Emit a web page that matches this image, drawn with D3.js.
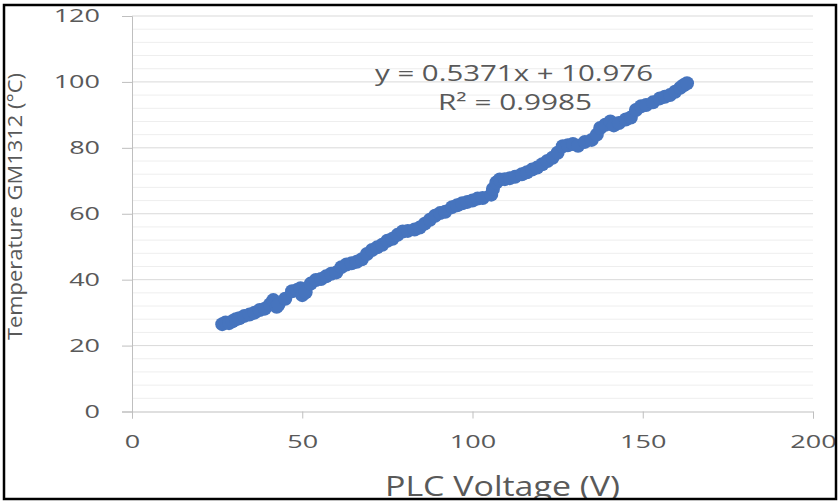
<!DOCTYPE html>
<html>
<head>
<meta charset="utf-8">
<script src="https://cdn.jsdelivr.net/npm/d3@7"></script>
<style>
  body { margin: 0; background: #fff; }
  text { font-family: "Open Sans", sans-serif; fill: #595959; }
</style>
</head>
<body>
<svg></svg>
<script>
// PLC voltage (V) vs GM1312 temperature (°C)
var voltage = [26.5, 27.5, 28.5, 29.5, 30.5, 31.5, 33.0, 34.5, 36.0, 37.5,
  39.0, 40.5, 41.5, 42.5, 43.0, 45.0, 47.0, 48.5, 49.5, 50.0,
  51.0, 52.5, 54.0, 55.5, 57.0, 58.5, 60.0, 61.5, 63.0, 64.5,
  66.0, 67.5, 69.0, 70.5, 72.0, 73.5, 75.0, 76.5, 78.0, 79.5,
  81.0, 83.0, 84.5, 86.0, 87.5, 89.0, 90.5, 92.0, 94.0, 95.5,
  97.0, 98.5, 100.0, 101.5, 103.0, 105.5, 106.0, 107.0, 108.0, 109.5,
  111.0, 112.5, 114.5, 116.0, 117.5, 119.0, 120.5, 122.0, 123.5, 125.0,
  126.5, 128.0, 129.5, 131.0, 133.0, 135.0, 136.5, 137.5, 139.0, 140.5,
  141.5, 143.0, 145.0, 146.5, 148.0, 149.5, 151.0, 153.0, 155.0, 156.5,
  158.0, 159.5, 161.0, 162.0, 163.0];
var temperature = [26.5, 27.0, 26.8, 27.4, 28.0, 28.3, 29.0, 29.4, 30.0, 30.8,
  31.2, 32.5, 33.8, 31.8, 32.4, 34.2, 36.5, 36.9, 37.4, 35.3,
  36.2, 38.8, 39.9, 40.2, 41.0, 41.8, 42.2, 43.8, 44.6, 45.0,
  45.4, 46.2, 47.8, 49.0, 49.8, 50.6, 51.8, 52.4, 53.6, 54.6,
  54.8, 55.2, 55.8, 57.0, 58.2, 59.4, 60.2, 60.6, 62.0, 62.6,
  63.2, 63.6, 64.0, 64.6, 64.8, 65.8, 67.5, 69.5, 70.4, 70.5,
  70.8, 71.2, 72.0, 72.6, 73.4, 74.0, 75.0, 76.0, 77.0, 78.5,
  80.5, 80.8, 81.2, 80.6, 81.8, 82.4, 84.0, 86.0, 87.0, 88.0,
  86.8, 87.5, 88.6, 89.2, 91.5, 92.6, 93.0, 93.8, 95.0, 95.5,
  96.0, 97.0, 98.2, 99.0, 99.6];

var xTicks = [0, 50, 100, 150, 200];
var yTicks = [0, 20, 40, 60, 80, 100, 120];
var slope = 0.5371, intercept = 10.976;
var equationText = 'y = 0.5371x + 10.976';
var r2Text = 'R\u00b2 = 0.9985';

var svgWidth = 838, svgHeight = 503;
var plotLeft = 132, plotRight = 813, plotTop = 16, plotBottom = 411.5;
var stretch = 1.5; // the source picture is widened, so are its labels

var svg = d3.select('svg')
    .attr('width', svgWidth)
    .attr('height', svgHeight);

var xScale = d3.scaleLinear().domain([0, 200]).range([plotLeft, plotRight]);
var yScale = d3.scaleLinear().domain([0, 120]).range([plotBottom, plotTop]);

// minor gridlines every 4, major every 20
var minor = d3.range(0, 121, 4).filter(function(d) { return d % 20 !== 0; });
svg.append('g').selectAll('line')
    .data(minor)
    .enter()
    .append('line')
    .attr('x1', plotLeft).attr('x2', plotRight)
    .attr('y1', function(d) { return yScale(d); })
    .attr('y2', function(d) { return yScale(d); })
    .attr('stroke', '#eeeeee');

svg.append('g').selectAll('line')
    .data(yTicks.slice(1))
    .enter()
    .append('line')
    .attr('x1', plotLeft).attr('x2', plotRight)
    .attr('y1', function(d) { return yScale(d); })
    .attr('y2', function(d) { return yScale(d); })
    .attr('stroke', '#d9d9d9');

// axes
var yAxis = svg.append('g')
    .attr('transform', 'translate(' + plotLeft + ',0)')
    .call(d3.axisLeft(yScale).tickValues(yTicks).tickSize(10).tickPadding(22));

var xAxis = svg.append('g')
    .attr('transform', 'translate(0,' + plotBottom + ')')
    .call(d3.axisBottom(xScale).tickValues(xTicks).tickSize(7).tickPadding(17));

[yAxis, xAxis].forEach(function(ax) {
    ax.select('.domain').attr('stroke', '#bfbfbf');
    ax.selectAll('.tick line').attr('stroke', '#bfbfbf');
    ax.selectAll('.tick text')
        .attr('fill', '#595959')
        .style('font-size', '18px')
        .style('font-family', '"Open Sans", sans-serif');
});
yAxis.selectAll('.tick text')
    .attr('x', 0)
    .attr('transform', 'translate(-32,0) scale(' + stretch + ',1)');
xAxis.selectAll('.tick text')
    .attr('transform', 'scale(' + stretch + ',1)');

// trendline
var xs = d3.extent(voltage);
svg.append('line')
    .attr('x1', xScale(xs[0])).attr('y1', yScale(slope * xs[0] + intercept))
    .attr('x2', xScale(xs[1])).attr('y2', yScale(slope * xs[1] + intercept))
    .attr('stroke', '#4472c4')
    .attr('stroke-width', 1);

// points
svg.append('g').selectAll('circle')
    .data(voltage)
    .enter()
    .append('circle')
    .attr('cx', function(d) { return xScale(d); })
    .attr('cy', function(d, i) { return yScale(temperature[i]); })
    .attr('r', 7)
    .attr('fill', '#4674be');

// equation
svg.append('text')
    .attr('x', 375).attr('y', 81)
    .style('font-size', '21px')
    .attr('lengthAdjust', 'spacingAndGlyphs')
    .attr('textLength', 278)
    .text(equationText);

svg.append('text')
    .attr('x', 438).attr('y', 110)
    .style('font-size', '21px')
    .attr('lengthAdjust', 'spacingAndGlyphs')
    .attr('textLength', 154)
    .text(r2Text);

// axis titles
svg.append('text')
    .attr('transform', 'translate(22,206.5) rotate(-90)')
    .attr('text-anchor', 'middle')
    .style('font-size', '20px')
    .attr('lengthAdjust', 'spacingAndGlyphs')
    .attr('textLength', 267)
    .text('Temperature GM1312 (\u00b0C)');

svg.append('text')
    .attr('x', 385).attr('y', 496)
    .style('font-size', '27px')
    .attr('lengthAdjust', 'spacingAndGlyphs')
    .attr('textLength', 235)
    .text('PLC Voltage (V)');

// cropped edge and frame
svg.append('rect')
    .attr('x', 0).attr('y', 499)
    .attr('width', svgWidth).attr('height', 4)
    .attr('fill', '#fff');

svg.append('rect')
    .attr('x', 4).attr('y', 5)
    .attr('width', 832).attr('height', 494)
    .attr('fill', 'none')
    .attr('stroke', '#000')
    .attr('stroke-width', 2.5);
</script>
</body>
</html>
